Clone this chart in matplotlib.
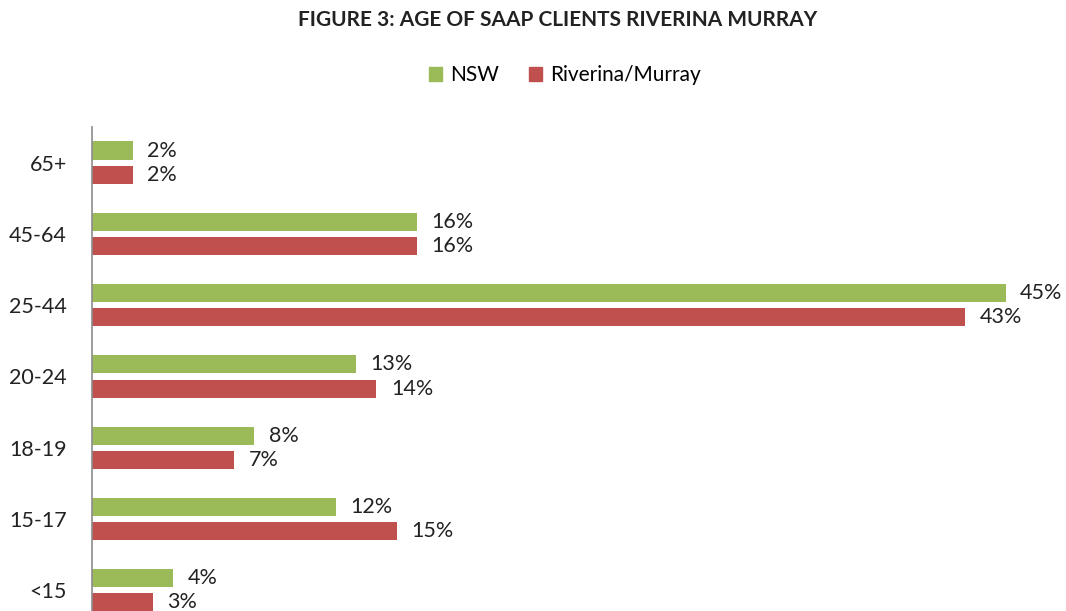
import matplotlib
matplotlib.use("Agg")
import matplotlib.pyplot as plt
import numpy as np
from matplotlib.patches import Patch

# data, bottom to top as drawn
age_groups = ["<15", "15-17", "18-19", "20-24", "25-44", "45-64", "65+"]
nsw = [4, 12, 8, 13, 45, 16, 2]
riverina = [3, 15, 7, 14, 43, 16, 2]

GREEN = "#9BBB59"
RED = "#C0504D"
FONT = ["Lato", "DejaVu Sans"]

plt.rcParams["font.family"] = FONT

fig = plt.figure(figsize=(10.66, 6.11), dpi=100)
# axes spans from y=127px down past the bottom edge (chart is cropped)
ax = fig.add_axes([92 / 1066, -15 / 611, 1 - 92 / 1066, (611 + 15 - 127) / 611])

y = np.arange(len(age_groups))
h = 0.255
off = 0.17
ax.barh(y + off, nsw, height=h, color=GREEN, label="NSW")
ax.barh(y - off, riverina, height=h, color=RED, label="Riverina/Murray")

for yi, v in zip(y, nsw):
    ax.text(v + 0.72, yi + off, f"{v}%", va="center", ha="left",
            fontsize=15.5, color="#222222")
for yi, v in zip(y, riverina):
    ax.text(v + 0.72, yi - off, f"{v}%", va="center", ha="left",
            fontsize=15.5, color="#222222")

ax.set_xlim(0, (1066 - 92) / 20.3)
ax.set_ylim(-0.5, len(age_groups) - 0.5)
ax.set_yticks(y)
ax.set_yticklabels(age_groups, fontsize=15.5, color="#222222")
ax.tick_params(axis="y", length=0, pad=18)
ax.set_xticks([])
for side in ("top", "right", "bottom"):
    ax.spines[side].set_visible(False)
ax.spines["left"].set_color("#8c8c8c")
ax.spines["left"].set_linewidth(1.2)

fig.text(0.523, 1 - 20 / 611, "FIGURE 3: AGE OF SAAP CLIENTS RIVERINA MURRAY",
         ha="center", va="center", fontsize=15, fontweight="bold",
         color="#222222")

handles = [Patch(color=GREEN, label="NSW"),
           Patch(color=RED, label="Riverina/Murray")]
fig.legend(handles=handles, loc="center", bbox_to_anchor=(0.53, 1 - 75 / 611),
           ncol=2, frameon=False, fontsize=15, handlelength=0.65,
           handleheight=0.65, handletextpad=0.4, columnspacing=1.4)

fig.savefig("out.png", dpi=100)
